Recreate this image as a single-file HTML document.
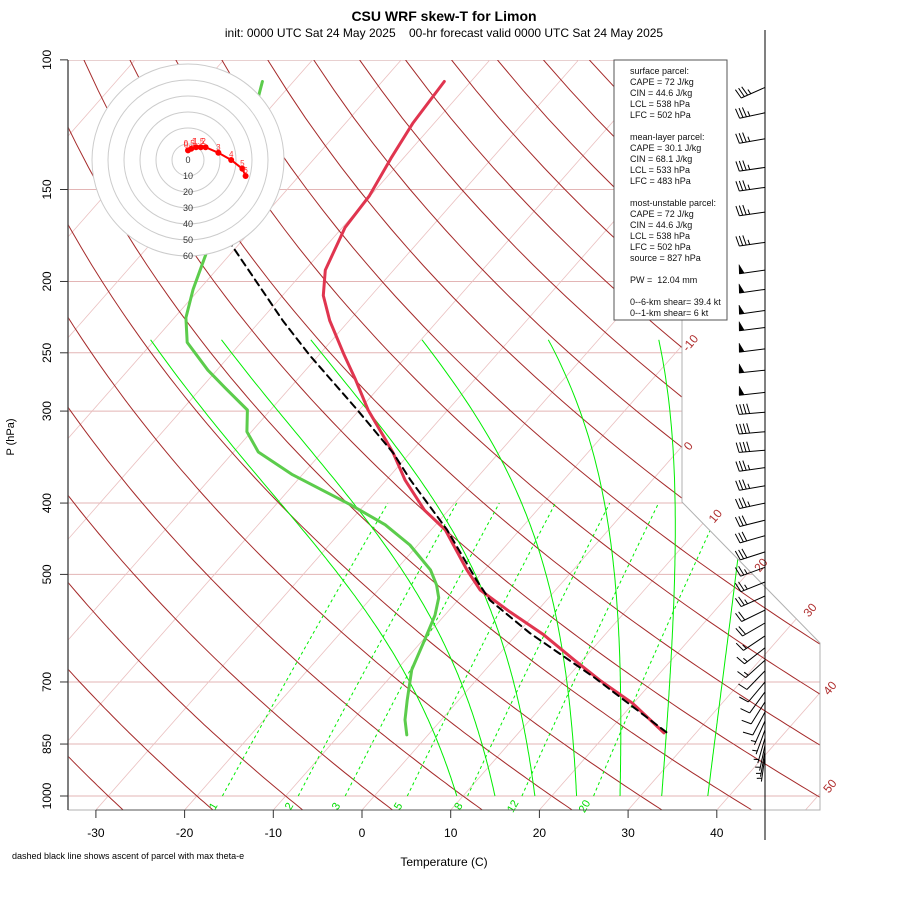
<!DOCTYPE html>
<html><head><meta charset="utf-8"><title>CSU WRF skew-T for Limon</title>
<style>
html,body{margin:0;padding:0;background:#fff;}
svg{display:block;font-family:"Liberation Sans",sans-serif;}
</style></head>
<body>
<svg id="chart" width="900" height="900" viewBox="0 0 900 900" xmlns="http://www.w3.org/2000/svg">
<defs>
<clipPath id="plotclip"><polygon points="68,60 682,60 682,502 820,643 820,810 68,810"/></clipPath>
</defs>
<rect x="0" y="0" width="900" height="900" fill="#fff"/>
<text x="444" y="21" font-size="14" font-weight="bold" text-anchor="middle">CSU WRF skew-T for Limon</text>
<text x="444" y="37" font-size="12" text-anchor="middle" style="white-space:pre" xml:space="preserve">init: 0000 UTC Sat 24 May 2025    00-hr forecast valid 0000 UTC Sat 24 May 2025</text>
<g id="grid" clip-path="url(#plotclip)"></g>
<g id="traces" clip-path="url(#plotclip)"></g>
<g id="frame"></g>
<g id="hodo"></g>
<g id="barbs"></g>
<g id="legend">
<rect x="614" y="60" width="113" height="260" fill="#fff" stroke="#555" stroke-width="1"/>
<g font-size="9" fill="#111">
<text x="630" y="74">surface parcel:</text>
<text x="630" y="85">CAPE = 72 J/kg</text>
<text x="630" y="96">CIN = 44.6 J/kg</text>
<text x="630" y="107">LCL = 538 hPa</text>
<text x="630" y="118">LFC = 502 hPa</text>
<text x="630" y="140">mean-layer parcel:</text>
<text x="630" y="151">CAPE = 30.1 J/kg</text>
<text x="630" y="162">CIN = 68.1 J/kg</text>
<text x="630" y="173">LCL = 533 hPa</text>
<text x="630" y="184">LFC = 483 hPa</text>
<text x="630" y="206">most-unstable parcel:</text>
<text x="630" y="217">CAPE = 72 J/kg</text>
<text x="630" y="228">CIN = 44.6 J/kg</text>
<text x="630" y="239">LCL = 538 hPa</text>
<text x="630" y="250">LFC = 502 hPa</text>
<text x="630" y="261">source = 827 hPa</text>
<text x="630" y="283" style="white-space:pre" xml:space="preserve">PW =  12.04 mm</text>
<text x="630" y="305">0--6-km shear= 39.4 kt</text>
<text x="630" y="316">0--1-km shear= 6 kt</text>
</g>
</g>
<text x="444" y="866" font-size="12" text-anchor="middle">Temperature (C)</text>
<text x="14" y="437" font-size="11" text-anchor="middle" transform="rotate(-90 14 437)">P (hPa)</text>
<text x="12" y="859" font-size="9">dashed black line shows ascent of parcel with max theta-e</text>
</svg>
<script>
// ---- data ----
const pressureTicks = [100,150,200,250,300,400,500,700,850,1000];
const tempTicks = [-30,-20,-10,0,10,20,30,40];
const isothermLabelValues = [-10,0,10,20,30,40,50];
const mixingRatios = [1,2,3,5,8,12,20];
const moistStartTemps = [9.3,13.6,18.1,22.8,27.7,32.4,37.6];
const tempP = [107,122,136,153,169,193,209,226,252,272,299,328,342,372,409,435,493,525,562,604,654,696,748,821];
const tempT = [-63.0,-62.4,-61.4,-60.1,-59.7,-57.7,-55.4,-52.2,-47.1,-43.4,-39.0,-34.1,-31.9,-27.9,-22.7,-18.4,-12.0,-8.5,-3.0,3.1,9.1,13.9,19.9,26.4];
const dewP = [107,116,184,205,224,242,264,279,299,320,341,366,402,428,456,493,517,538,568,614,674,741,788,826];
const dewT = [-83.5,-81.7,-72.7,-70.7,-68.7,-66.1,-61.0,-57.3,-52.6,-50.5,-47.2,-41.1,-31.6,-25.7,-20.9,-16.1,-13.9,-12.4,-11.1,-9.8,-8.3,-5.8,-4.1,-2.4];
const parcelP = [150,178,226,252,299,342,372,435,509,542,601,689,819];
const parcelT = [-82.5,-70.9,-57.5,-51.0,-40.2,-31.9,-27.3,-18.2,-9.9,-6.4,1.4,12.9,26.6];
const barbP = [109,118,128,140,149,161,177,193,205,219,231,247,264,283,301,320,339,358,379,400,422,443,466,489,512,535,559,582,606,629,654,676,700,722,745,769,791,813,834,853,869,882];
const barbSpeed = [35,35,35,35,35,35,35,50,50,50,50,50,50,50,40,40,40,35,35,35,30,30,30,25,25,25,20,20,15,15,15,10,10,10,10,10,5,5,5,5,5,5];
const barbDir = [246,258,260,262,262,262,262,262,262,262,263,263,264,264,265,265,265,262,260,258,256,254,252,250,248,246,244,240,236,232,228,224,220,216,212,208,204,200,196,192,190,188];
const hodoU = [0,2,5,8,11,19,27,34,36];
const hodoV = [6,7,8,8,8,4.5,0,-5.5,-10];
const hodoLabels = ["0","0.5","1","1.5","2","3","4","5","6"];
const hodoRings = [10,20,30,40,50,60];

// ---- scales ----
const NS = "http://www.w3.org/2000/svg";
function yOf(p){ return 796 - 319.7*Math.log(1000/p); }
function xOf(T,y){ return 362 + 8.87*T + 0.88*(810 - y); }
function mk(tag, attrs, parent){ const e=document.createElementNS(NS,tag); for(const k in attrs) e.setAttribute(k,attrs[k]); parent.appendChild(e); return e; }
function pathFrom(pts){ return pts.map((q,i)=>(i?"L":"M")+q[0].toFixed(1)+","+q[1].toFixed(1)).join(""); }

const grid = document.getElementById("grid");
const traces = document.getElementById("traces");
const frame = document.getElementById("frame");

// isobars
pressureTicks.forEach(p=>{
  const y=yOf(p);
  const l=mk("line",{x1:68,x2:820,y1:y,y2:y,stroke:p===100?"#c08080":"#e3b5b5","stroke-width":1},grid);
  
  
});
// isotherms
for(let T=-160;T<=50;T+=10){
  const l=mk("line",{x1:xOf(T,810),y1:810,x2:xOf(T,60),y2:60,stroke:"#eac0c0","stroke-width":0.8},grid);
  
  
}
// dry adiabats
for(let th=-30;th<=190;th+=10){
  const pts=[];
  for(let p=1060;p>=95;p-=10){ const T=(th+273.15)*Math.pow(p/1000,0.2857)-273.15; const y=yOf(p); pts.push([xOf(T,y),y]); }
  const e=mk("path",{d:pathFrom(pts),fill:"none",stroke:"#a52a2a","stroke-width":1},grid);
  
  
}
// moist adiabats
moistStartTemps.forEach(T0=>{
  let T=T0+273.15; const pts=[];
  for(let p=1000;p>=240;p-=5){
    const y=yOf(p); pts.push([xOf(T-273.15,y),y]);
    const es=6.112*Math.exp(17.67*(T-273.15)/(T-29.65)); const rs=1.07*0.622*es/(p-es);
    const d=(287*T+2.5e6*rs)/(p*(1005+2.5e6*2.5e6*rs*0.622/(287*T*T)));
    T-=d*5;
  }
  const e=mk("path",{d:pathFrom(pts),fill:"none",stroke:"#00ee00","stroke-width":1},grid);
  
  
});
// mixing ratio lines
mixingRatios.forEach(w=>{
  const pts=[];
  for(let p=1000;p>=400;p-=10){ const e=w*p/(622+w); const a=Math.log(e/6.112); const Td=243.5*a/(17.67-a); const y=yOf(p); pts.push([xOf(Td,y),y]); }
  const e=mk("path",{d:pathFrom(pts),fill:"none",stroke:"#00ee00","stroke-width":1,"stroke-dasharray":"3,3"},grid);
  
  
  const bx=pts[0][0]-6;
  const t=mk("text",{x:bx,y:808,"font-size":11,fill:"#00dd00","text-anchor":"middle",transform:"rotate(-60 "+bx+" 808)"},frame);
  t.textContent=w;
  
  
});

// traces
function trace(P,T,attrs,name){
  const pts=P.map((p,i)=>{const y=yOf(p);return [xOf(T[i],y),y];});
  const e=mk("path",Object.assign({d:pathFrom(pts),fill:"none","stroke-linejoin":"round","stroke-linecap":"round"},attrs),traces);
  
  
}
trace(dewP,dewT,{stroke:"#5ccc4c","stroke-width":3},'dewpoint-trace');
trace(tempP,tempT,{stroke:"#e0354f","stroke-width":3},'temperature-trace');
trace(parcelP,parcelT,{stroke:"#000","stroke-width":2,"stroke-dasharray":"7,5"},'parcel-ascent');

// frame
const fr=mk("polyline",{points:"682,60 682,502 820,643 820,810 68,810",fill:"none",stroke:"#b0b0b0","stroke-width":1},frame);


const ya=mk("line",{x1:68,x2:68,y1:60,y2:810,stroke:"#555","stroke-width":1.5},frame);


const xa=mk("line",{x1:xOf(-30,810),x2:xOf(40,810),y1:810,y2:810,stroke:"#555","stroke-width":1},frame);


pressureTicks.forEach(p=>{
  const y=yOf(p);
  const tk=mk("line",{x1:60,x2:68,y1:y,y2:y,stroke:"#333","stroke-width":1},frame);
  
  
  const t=mk("text",{x:51,y:y,"font-size":12,"text-anchor":"middle",transform:"rotate(-90 51 "+y+")"},frame);
  t.textContent=p;
  
  
});
tempTicks.forEach(T=>{
  const x=xOf(T,810);
  const tk=mk("line",{x1:x,x2:x,y1:810,y2:818,stroke:"#333","stroke-width":1},frame);
  
  
  const t=mk("text",{x:x,y:837,"font-size":12,"text-anchor":"middle"},frame);
  t.textContent=T;
  
  
});
// isotherm labels along right boundary
const isoLabelY=[343,446,516,565,610,688,786];
isothermLabelValues.forEach((T,i)=>{
  const y=isoLabelY[i];
  const x=Math.min(xOf(T,y)+6,830);
  const t=mk("text",{x:x,y:y+4,"font-size":12,fill:"#b03030","text-anchor":"middle",transform:"rotate(-50 "+x+" "+y+")"},frame);
  t.textContent=T;
  
  
});

// hodograph
const hodo=document.getElementById("hodo");
const hc=[188,160], hs=1.6;
for(let i=hodoRings.length-1;i>=0;i--){
  const c=mk("circle",{cx:hc[0],cy:hc[1],r:hodoRings[i]*hs,fill:"#fff",stroke:"#cccccc","stroke-width":1},hodo);
  
  
}
[0].concat(hodoRings).forEach(r=>{
  const t=mk("text",{x:hc[0],y:hc[1]+r*hs+3,"font-size":9,fill:"#333","text-anchor":"middle"},hodo);
  t.textContent=r;
  
  
});
const hpts=hodoU.map((u,i)=>[hc[0]+u*hs,hc[1]-hodoV[i]*hs]);
const hl=mk("path",{d:pathFrom(hpts),fill:"none",stroke:"#ff0000","stroke-width":2},hodo);


hpts.forEach((q,i)=>{
  const c=mk("circle",{cx:q[0],cy:q[1],r:3,fill:"#ff0000"},hodo);
  
  
  const t=mk("text",{x:q[0]-2+(i>4?2:0),y:q[1]-3,"font-size":8,fill:"#ff3030","text-anchor":"middle"},hodo);
  t.textContent=hodoLabels[i];
  
  
});

// wind barbs
const barbs=document.getElementById("barbs");
const st=mk("line",{x1:765,x2:765,y1:30,y2:840,stroke:"#000","stroke-width":1},barbs);


barbP.forEach((p,i)=>{
  const y0=yOf(p), x0=765, L=26;
  const r=barbDir[i]*Math.PI/180;
  const ux=Math.sin(r), uy=-Math.cos(r);
  const tx=x0+ux*L, ty=y0+uy*L;
  const px=-uy, py=ux; // perpendicular
  let d="M"+x0+","+y0.toFixed(1)+"L"+tx.toFixed(1)+","+ty.toFixed(1);
  let s=barbSpeed[i], pos=0, fillD="";
  while(s>=50){
    const ax=tx-ux*pos, ay=ty-uy*pos, bx=tx-ux*(pos+5), by=ty-uy*(pos+5);
    const cx=ax+px*9-ux*1, cy=ay+py*9-uy*1;
    fillD+="M"+ax.toFixed(1)+","+ay.toFixed(1)+"L"+cx.toFixed(1)+","+cy.toFixed(1)+"L"+bx.toFixed(1)+","+by.toFixed(1)+"Z";
    pos+=6; s-=50;
  }
  while(s>=10){
    const ax=tx-ux*pos, ay=ty-uy*pos;
    d+="M"+ax.toFixed(1)+","+ay.toFixed(1)+"L"+(ax+px*10+ux*2).toFixed(1)+","+(ay+py*10+uy*2).toFixed(1);
    pos+=3.5; s-=10;
  }
  if(s>=5){
    if(pos===0) pos=3.5;
    const ax=tx-ux*pos, ay=ty-uy*pos;
    d+="M"+ax.toFixed(1)+","+ay.toFixed(1)+"L"+(ax+px*5+ux*1).toFixed(1)+","+(ay+py*5+uy*1).toFixed(1);
  }
  const b=mk("path",{d:d,fill:"none",stroke:"#000","stroke-width":1},barbs);
  
  
  if(fillD){
    const f=mk("path",{d:fillD,fill:"#000",stroke:"#000","stroke-width":0.5},barbs);
    
    
  }
});
</script>
</body></html>
